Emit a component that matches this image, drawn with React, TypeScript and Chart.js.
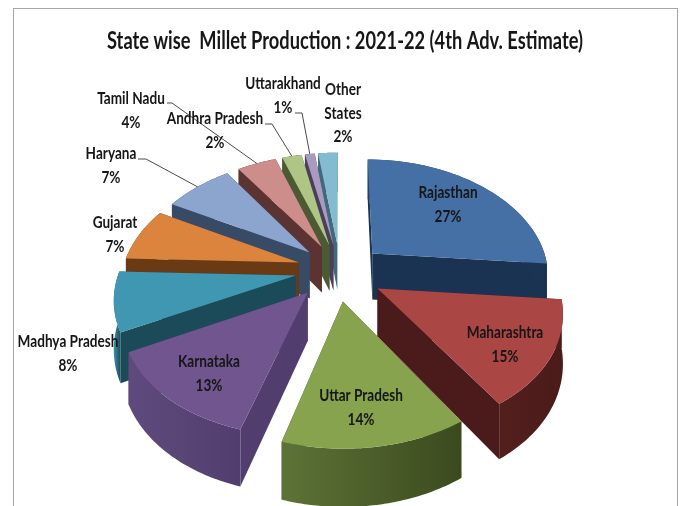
import React, { useEffect, useRef } from "react";
import { Chart, registerables } from "chart.js";

Chart.register(...registerables);

// Share of national millet production, in percent.
const states = [
  "Rajasthan", "Maharashtra", "Uttar Pradesh", "Karnataka", "Madhya Pradesh", "Gujarat",
  "Haryana", "Tamil Nadu", "Andhra Pradesh", "Uttarakhand", "Other States",
];
const shares = [27, 15, 14, 13, 8, 7, 7, 4, 2, 1, 2];
const chartTitle = "State wise  Millet Production : 2021-22 (4th Adv. Estimate)";

const faceColors = ["#4570a6", "#aa4644", "#87a34e", "#70558f", "#3f97b1", "#db843d", "#8ba5cf", "#cc8d8b", "#aec586", "#a99bc0", "#85bbd1"];
const wallColors = ["#1b3352", "#4a1b1a", "#3b4a1e", "#523e6e", "#1b4a58", "#6a3a14", "#374a66", "#5b3332", "#4b5a32", "#4a3e5c", "#3e6b7c"];
const wallLights = ["#25436b", "#531f1d", "#5d7336", "#5e4a7c", "#3a93ac", "#6a3a14", "#374a66", "#5b3332", "#4b5a32", "#4a3e5c", "#3e6b7c"];

// Where each caption sits: centre x, then the y of the first line.
const captionLines = [
  ["Rajasthan", "27%"], ["Maharashtra", "15%"], ["Uttar Pradesh", "14%"], ["Karnataka", "13%"],
  ["Madhya Pradesh", "8%"], ["Gujarat", "7%"], ["Haryana", "7%"], ["Tamil Nadu", "4%"],
  ["Andhra Pradesh", "2%"], ["Uttarakhand", "1%"], ["Other", "States", "2%"],
];
const captionX = [448, 505, 361, 209, 68, 115, 111, 131, 215, 283, 343];
const captionY = [193, 333, 396, 362, 342, 223, 154, 99, 119, 84, 90];
const captionGap = 23.5;

// Leader lines: slice index and the elbow they leave from.
const leaders = [
  { slice: 6, fromX: 138, toX: 146, y: 159 },
  { slice: 7, fromX: 167, toX: 172, y: 103 },
  { slice: 8, fromX: 265, toX: 272, y: 124 },
  { slice: 9, fromX: 295, toX: 302, y: 113 },
];

// Tilted-disc projection used for the slices.
const CX = 340, CY = 272, AX = 177, AY = 114, PERSPECTIVE_X = 0.17, PERSPECTIVE_Y = 0.155;
const DEPTH = 47, EXPLODE = 0.25;
const LABEL_FONT = "bold 17px Lato, 'Open Sans', sans-serif";
const TITLE_FONT = "bold 24.5px Lato, 'Open Sans', sans-serif";
const TEXT_CONDENSE = 0.8;

function project(u: number, v: number, z = 0) {
  const wx = 1 - PERSPECTIVE_X * v;
  const wy = 1 - PERSPECTIVE_Y * v;
  return { x: CX + (AX * u) / wx, y: CY + (AY * v) / wy + (z * DEPTH) / wy };
}

// The view foreshortens angles a little: rim directions drift towards the start of the pie.
function viewAngle(angle: number) {
  const t = (angle + Math.PI / 2) / (2 * Math.PI);
  const driftDegrees = Math.sin(Math.PI * t) * Math.min(8, 10 * t);
  return angle - (driftDegrees * Math.PI) / 180;
}

// Plane coordinates around an arc element, from the library's own start/end angles.
function pointOn(mid: number, angle: number, r: number) {
  const a = viewAngle(angle);
  return {
    u: EXPLODE * Math.cos(mid) + r * Math.cos(a),
    v: EXPLODE * Math.sin(mid) + r * Math.sin(a),
  };
}

function fillPoly(ctx: CanvasRenderingContext2D, pts: { x: number; y: number }[], fill: any) {
  ctx.beginPath();
  pts.forEach((p, i) => (i ? ctx.lineTo(p.x, p.y) : ctx.moveTo(p.x, p.y)));
  ctx.closePath();
  ctx.fillStyle = fill;
  ctx.fill();
}

function condensedText(ctx: CanvasRenderingContext2D, text: string, x: number, y: number, factor: number) {
  ctx.save();
  ctx.translate(x, y);
  ctx.scale(factor, 1);
  ctx.fillText(text, 0, 0);
  ctx.restore();
}

const tiltedPie = {
  id: "tiltedPie",
  beforeDatasetsDraw(chart: any) {
    const ctx: CanvasRenderingContext2D = chart.ctx;
    const arcs: any[] = chart.getDatasetMeta(0).data;
    const order = arcs
      .map((arc, i) => ({ arc, i, mid: (arc.startAngle + arc.endAngle) / 2 }))
      .sort((a, b) => Math.sin(a.mid) - Math.sin(b.mid));

    for (const { arc, i, mid } of order) {
      const apex = pointOn(mid, 0, 0);
      const steps = 48;
      const top: { x: number; y: number }[] = [];
      const bottom: { x: number; y: number }[] = [];
      for (let s = 0; s <= steps; s++) {
        const a = arc.startAngle + ((arc.endAngle - arc.startAngle) * s) / steps;
        const p = pointOn(mid, a, 1);
        top.push(project(p.u, p.v, 0));
        bottom.push(project(p.u, p.v, 1));
      }
      const apexTop = project(apex.u, apex.v, 0);
      const apexBottom = project(apex.u, apex.v, 1);

      fillPoly(ctx, [apexTop, top[0], bottom[0], apexBottom], wallColors[i]);
      fillPoly(ctx, [apexTop, top[steps], bottom[steps], apexBottom], wallColors[i]);

      const xs = top.map((p) => p.x);
      const grad = ctx.createLinearGradient(Math.min(...xs), 0, Math.max(...xs), 0);
      grad.addColorStop(0, wallLights[i]);
      grad.addColorStop(1, wallColors[i]);
      fillPoly(ctx, [...top, ...bottom.slice().reverse()], grad);

      fillPoly(ctx, [apexTop, ...top], faceColors[i]);
    }

    // Leader lines run from the caption elbow to the rim of the slice.
    ctx.strokeStyle = "#4a4a4a";
    ctx.lineWidth = 1;
    for (const l of leaders) {
      const arc = arcs[l.slice];
      const mid = (arc.startAngle + arc.endAngle) / 2;
      const p = pointOn(mid, mid, 1);
      const end = project(p.u, p.v, 0);
      ctx.beginPath();
      ctx.moveTo(l.fromX, l.y);
      ctx.lineTo(l.toX, l.y);
      ctx.lineTo(end.x, end.y);
      ctx.stroke();
    }

    ctx.textAlign = "center";
    ctx.textBaseline = "middle";
    ctx.fillStyle = "#161616";
    ctx.font = LABEL_FONT;
    captionLines.forEach((lines, i) => {
      lines.forEach((line, k) => condensedText(ctx, line, captionX[i], captionY[i] + k * captionGap, TEXT_CONDENSE));
    });
    ctx.font = TITLE_FONT;
    ctx.fillText(chartTitle, 345, 41, 476);
    return false;
  },
};

const frame = {
  id: "frame",
  beforeDraw(chart: any) {
    const ctx: CanvasRenderingContext2D = chart.ctx;
    ctx.save();
    ctx.fillStyle = "#ffffff";
    ctx.fillRect(0, 0, chart.width, chart.height);
    ctx.strokeStyle = "#a6a6a6";
    ctx.lineWidth = 1;
    ctx.strokeRect(13.5, 8.5, 664, 560);
    ctx.restore();
  },
};

export default function App() {
  const ref = useRef<HTMLCanvasElement>(null);
  useEffect(() => {
    const chart = new Chart(ref.current!, {
      type: "pie",
      data: {
        labels: states,
        datasets: [{ data: shares, backgroundColor: faceColors, borderWidth: 0 }],
      },
      options: {
        animation: false,
        responsive: false,
        plugins: {
          legend: { display: false },
          tooltip: { enabled: false },
        },
      },
      plugins: [frame, tiltedPie],
    } as any);
    return () => chart.destroy();
  }, []);
  return (
    <canvas
      ref={ref}
      width={680}
      height={506}
      style={{ position: "fixed", left: 0, top: 0, width: 680, height: 506 }}
    />
  );
}
